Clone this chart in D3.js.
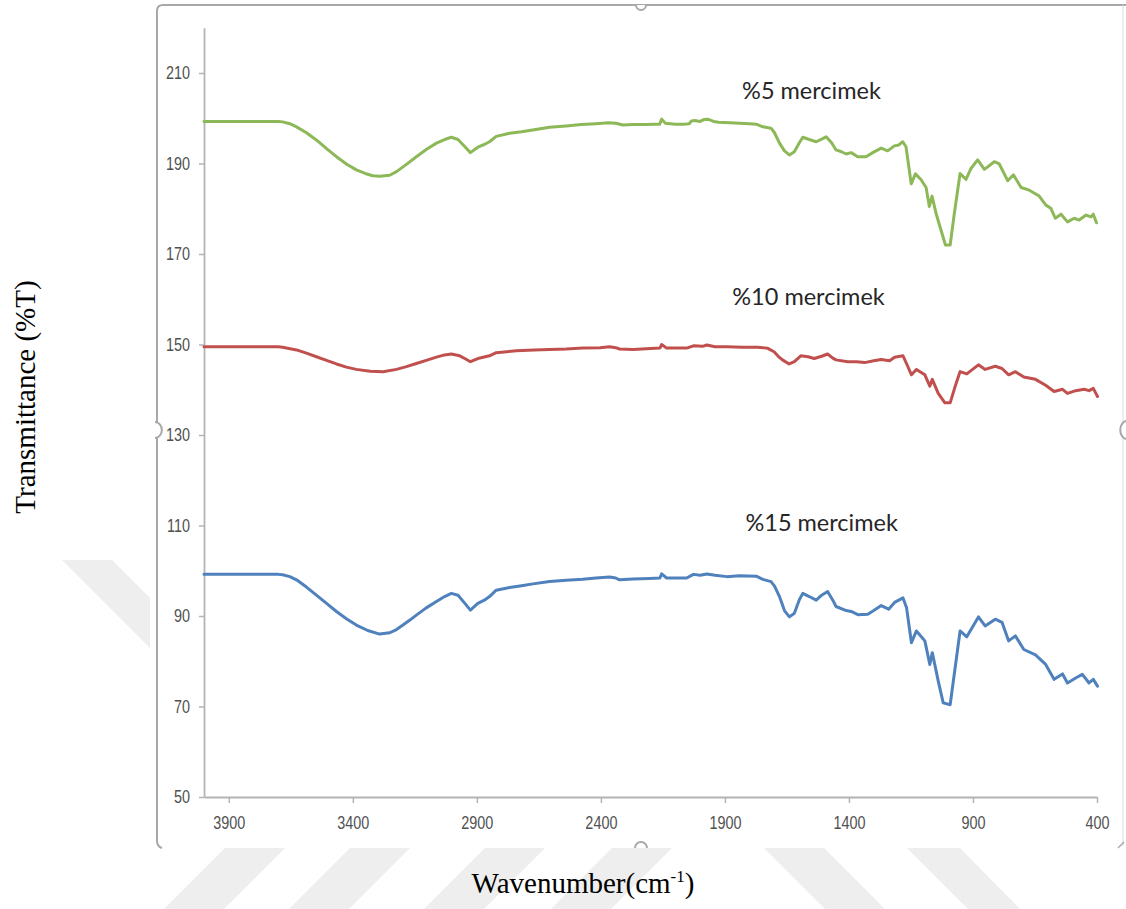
<!DOCTYPE html>
<html>
<head>
<meta charset="utf-8">
<script src="https://cdn.jsdelivr.net/npm/d3@7"></script>
<style>
  html, body { margin: 0; padding: 0; background: #ffffff; }
  svg { display: block; }
</style>
</head>
<body>
<svg id="chart" width="1126" height="909"></svg>
<script>
// FT-IR spectra of lentil (mercimek) films, wavenumber in cm-1, transmittance in %T
const wn5 = [4000,3850,3700,3683,3654,3627,3587,3547,3506,3466,3426,3386,3350,3320,3292,3251,3224,3184,3144,3104,3063,3030,3003,2976,2950,2926,2896,2870,2849,2822,2768,2720,2675,2607,2540,2480,2420,2370,2340,2311,2270,2220,2180,2163,2155,2140,2100,2060,2044,2035,2022,2000,1985,1970,1945,1926,1880,1841,1800,1774,1747,1714,1700,1680,1660,1640,1620,1600,1586,1560,1532,1510,1492,1470,1452,1430,1411,1391,1365,1331,1304,1270,1244,1217,1199,1183,1170,1149,1132,1109,1089,1076,1065,1049,1029,1011,992,975,952,928,908,881,854,814,794,760,737,706,673,633,606,586,568,545,519,492,472,444,424,415,402];
const t5 = [199.3,199.3,199.3,199.2,198.8,198.1,196.8,195.2,193.3,191.5,189.9,188.6,187.8,187.3,187.2,187.4,188.2,189.8,191.5,193.1,194.5,195.3,195.8,195.3,193.8,192.4,193.6,194.2,194.8,196.0,196.7,197.0,197.4,198.0,198.3,198.6,198.8,199.0,198.9,198.5,198.6,198.6,198.7,198.7,199.8,198.9,198.7,198.7,198.8,199.4,199.5,199.3,199.7,199.8,199.3,199.1,199.0,198.9,198.8,198.7,198.1,197.8,196.8,194.5,192.8,191.9,192.6,194.6,195.8,195.3,194.8,195.4,195.9,194.6,193.0,192.6,192.1,192.4,191.5,191.5,192.4,193.4,192.8,193.9,194.1,194.8,193.7,185.5,187.7,186.4,184.7,180.5,182.8,179.0,175.3,172.0,172.0,179.0,187.8,186.5,188.9,190.8,188.7,190.4,189.9,186.2,187.5,184.7,184.1,182.8,180.8,180.1,177.9,178.8,177.1,177.9,177.5,178.6,178.2,178.8,176.9];

const wn10 = [4000,3850,3700,3683,3627,3587,3547,3506,3466,3426,3386,3330,3278,3224,3184,3144,3104,3063,3030,3003,2969,2945,2926,2896,2849,2822,2741,2670,2607,2540,2473,2403,2365,2340,2325,2270,2200,2162,2155,2135,2054,2027,1990,1973,1940,1892,1830,1770,1729,1702,1685,1668,1641,1620,1594,1565,1540,1510,1486,1465,1452,1405,1370,1337,1300,1270,1236,1216,1182,1168,1148,1128,1094,1074,1064,1040,1013,992,972,952,925,878,851,810,783,756,729,695,648,607,573,539,519,486,452,432,415,398];
const t10 = [149.5,149.5,149.5,149.4,148.8,148.1,147.3,146.5,145.7,145.0,144.5,144.1,144.0,144.5,145.1,145.8,146.5,147.2,147.7,147.9,147.5,146.8,146.2,146.9,147.5,148.2,148.6,148.8,148.9,149.0,149.2,149.3,149.5,149.3,149.0,148.9,149.1,149.2,150.0,149.2,149.2,149.7,149.6,149.9,149.5,149.5,149.4,149.4,149.2,148.4,147.4,146.6,145.7,146.2,147.5,147.3,146.9,147.4,147.9,147.0,146.6,146.2,146.2,146.0,146.4,146.7,146.4,147.2,147.5,145.8,143.3,144.5,143.3,140.8,142.3,139.2,137.1,137.1,140.7,144.0,143.5,145.5,144.5,145.2,144.7,143.3,144.0,142.8,142.3,141.0,139.6,140.1,139.2,139.8,140.1,139.8,140.3,138.5];

const wn15 = [4000,3850,3700,3683,3654,3627,3587,3547,3506,3466,3426,3386,3340,3292,3251,3224,3198,3170,3144,3104,3063,3030,3003,2976,2950,2926,2896,2870,2849,2822,2768,2720,2674,2607,2540,2473,2420,2365,2340,2325,2271,2204,2162,2155,2135,2054,2027,2000,1973,1940,1892,1841,1774,1747,1714,1700,1680,1660,1640,1620,1600,1586,1560,1532,1510,1486,1465,1452,1411,1391,1364,1324,1300,1270,1240,1216,1182,1168,1148,1128,1094,1074,1064,1040,1020,992,972,952,925,878,851,810,783,756,729,695,648,607,573,539,519,486,459,432,415,398];
const t15 = [99.2,99.2,99.2,99.1,98.7,98.0,96.4,94.6,92.8,91.0,89.4,88.0,86.8,86.0,86.3,87.0,88.0,89.1,90.2,91.8,93.2,94.3,95.0,94.6,92.9,91.3,92.8,93.5,94.3,95.7,96.3,96.7,97.1,97.6,97.9,98.1,98.4,98.6,98.4,98.0,98.2,98.3,98.4,99.3,98.4,98.4,99.2,99.0,99.3,99.0,98.7,98.9,98.8,98.1,97.6,96.6,94.3,91.2,89.8,90.6,93.6,95.0,94.3,93.5,94.6,95.4,93.5,92.1,91.2,91.0,90.3,90.4,91.2,92.3,91.5,93.0,94.0,91.9,84.1,86.7,84.5,79.3,81.9,75.6,70.8,70.4,78.5,86.7,85.4,89.8,87.8,89.3,88.6,84.5,85.6,82.6,81.4,79.3,76.0,77.2,75.2,76.3,77.1,75.2,76.0,74.5];

const seriesNames = ["%5 mercimek", "%10 mercimek", "%15 mercimek"];
const seriesColors = ["#8db859", "#c0504d", "#4f81bd"];
// where each series name is written, in data units
const labelWn = [1551, 1563, 1510];
const labelT = [204.2, 158.7, 108.8];

const xTicks = [3900, 3400, 2900, 2400, 1900, 1400, 900, 400];
const yTicks = [50, 70, 90, 110, 130, 150, 170, 190, 210];
const xDomain = [4000, 400];
const yDomain = [50, 220];

const svg = d3.select("#chart");

// page watermark: faint diagonal bands behind the chart
const wm = svg.append("g").attr("fill", "#eeeeee");
const bands = [
  [[62,560],[112,560],[200,648],[150,648]],
  [[225,848],[285,848],[224,909],[164,909]],
  [[350,848],[410,848],[349,909],[289,909]],
  [[485,848],[545,848],[484,909],[424,909]],
  [[612,848],[672,848],[611,909],[551,909]],
  [[764,848],[824,848],[885,909],[825,909]],
  [[907,848],[960,848],[1020,909],[968,909]]
];
wm.selectAll("polygon").data(bands).join("polygon")
  .attr("points", d => d.map(p => p.join(",")).join(" "));

// chart area
svg.append("rect").attr("x", 150).attr("y", 0).attr("width", 976).attr("height", 848).attr("fill", "#ffffff");

// chart object frame with its handles
const frame = svg.append("g").attr("fill", "none").attr("stroke", "#a8a8a8").attr("stroke-width", 2);
frame.append("path").attr("d", "M157,842 L157,11 Q157,5 163,5 L1126,5");
frame.append("path").attr("d", "M1123,5 L1123,846").attr("stroke", "#dcdcdc").attr("stroke-width", 1);
frame.append("path").attr("d", "M157,842 Q158,847 162,848");
frame.append("path").attr("d", "M1118,848 L1124,842").attr("stroke-width", 1.5);
frame.append("path").attr("d", "M636,5 A5,5 0 0 0 646,5").attr("fill", "#fff");
frame.append("path").attr("d", "M155,422 A6,7 0 0 1 155,438").attr("fill", "#fff");
frame.append("path").attr("d", "M1127,421 A6,8 0 0 0 1127,439").attr("fill", "#fff");
frame.append("path").attr("d", "M635,848 A6,6 0 0 1 647,848").attr("fill", "#fff");

const x = d3.scaleLinear().domain(xDomain).range([204, 1097]);
const y = d3.scaleLinear().domain(yDomain).range([797, 797 - 170 * 4.525]);

const yAxis = svg.append("g")
  .attr("transform", "translate(204,0)")
  .call(d3.axisLeft(y).tickValues(yTicks).tickFormat(d3.format("d"))
    .tickSize(5).tickSizeOuter(0).tickPadding(9));
const xAxis = svg.append("g")
  .attr("transform", "translate(0,797)")
  .call(d3.axisBottom(x).tickValues(xTicks).tickFormat(d3.format("d"))
    .tickSize(6).tickSizeOuter(0).tickPadding(13));

[yAxis, xAxis].forEach(g => {
  g.select(".domain").attr("stroke", "#b4b4b4").attr("stroke-width", 1.8);
  g.selectAll(".tick line").attr("stroke", "#b4b4b4").attr("stroke-width", 1.5);
  g.selectAll(".tick text")
    .attr("fill", "#505050")
    .style("font-family", "'Liberation Sans', Arial, sans-serif")
    .style("font-size", "18px")
    // condensed digits
    .each(function () {
      const w = this.getComputedTextLength();
      d3.select(this).attr("textLength", w * 0.8).attr("lengthAdjust", "spacingAndGlyphs");
    });
});

// spectra
const series = [
  { wn: wn5, t: t5 },
  { wn: wn10, t: t10 },
  { wn: wn15, t: t15 }
];
const line = d3.line().x(d => x(d[0])).y(d => y(d[1])).curve(d3.curveLinear);

const defs = svg.append("defs");
defs.append("filter").attr("id", "soft")
  .append("feGaussianBlur").attr("stdDeviation", 0.45);

svg.append("g").attr("filter", "url(#soft)")
  .selectAll("path").data(series).join("path")
  .attr("d", s => line(s.wn.map((w, i) => [w, s.t[i]])))
  .attr("fill", "none")
  .attr("stroke", (s, i) => seriesColors[i])
  .attr("stroke-width", 3)
  .attr("stroke-linejoin", "round")
  .attr("stroke-linecap", "round");

// series names
svg.append("g").selectAll("text").data(seriesNames).join("text")
  .attr("x", (d, i) => x(labelWn[i]))
  .attr("y", (d, i) => y(labelT[i]))
  .attr("text-anchor", "middle")
  .attr("fill", "#262626")
  .style("font-family", "Lato, 'Open Sans', sans-serif")
  .style("font-size", "23.5px")
  .text(d => d);

// axis titles
svg.append("text")
  .attr("transform", "translate(35,397) rotate(-90)")
  .attr("text-anchor", "middle")
  .attr("fill", "#000")
  .style("font-family", "'Liberation Serif', 'Times New Roman', serif")
  .style("font-size", "29px")
  .text("Transmittance (%T)");

const xt = svg.append("text")
  .attr("x", 583)
  .attr("y", 893)
  .attr("text-anchor", "middle")
  .attr("fill", "#000")
  .style("font-family", "'Liberation Serif', 'Times New Roman', serif")
  .style("font-size", "29px");
xt.append("tspan").text("Wavenumber(cm");
xt.append("tspan").attr("dy", -11).style("font-size", "17px").text("-1");
xt.append("tspan").attr("dy", 11).text(")");
</script>
</body>
</html>
